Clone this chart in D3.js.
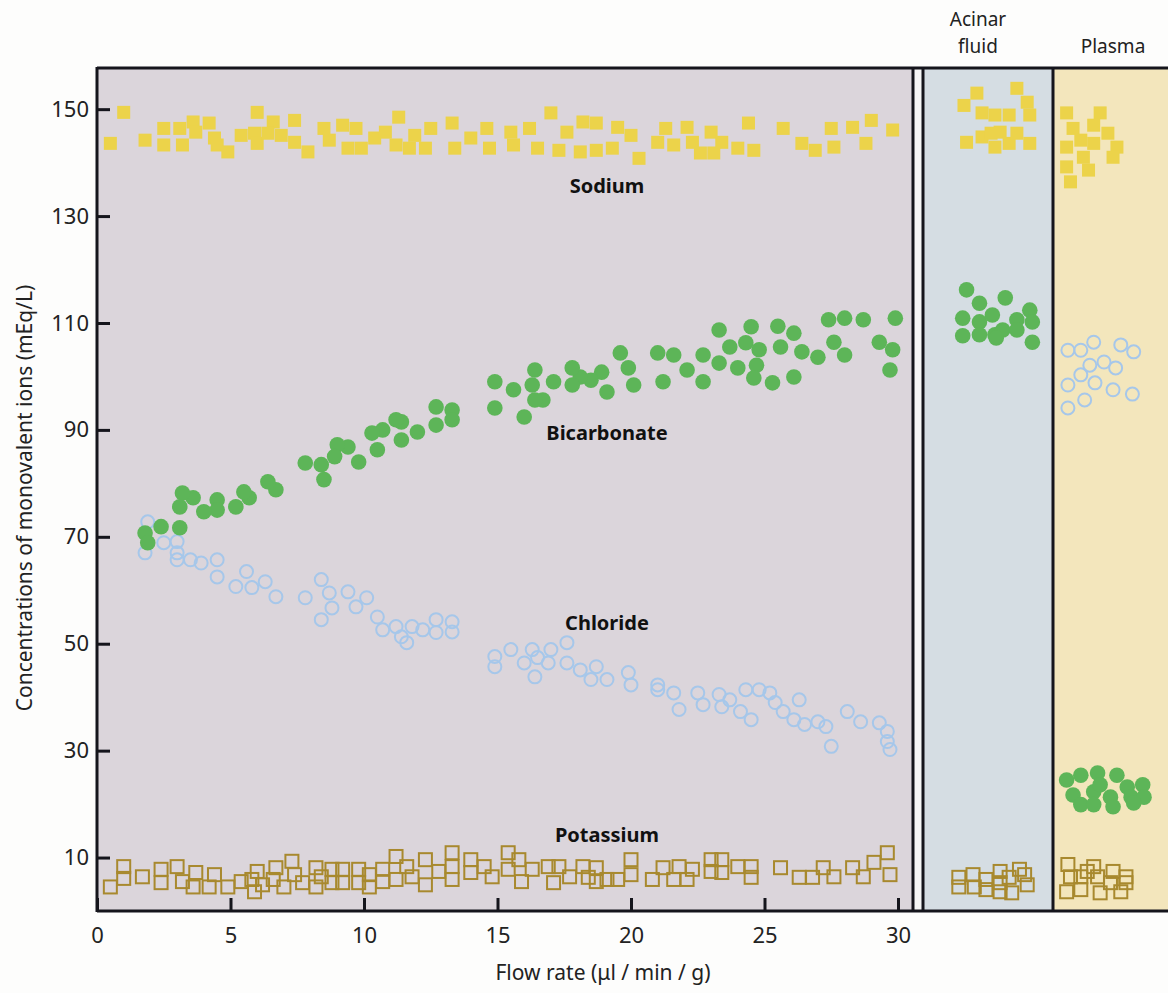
<!DOCTYPE html>
<html>
<head>
<meta charset="utf-8">
<script src="https://cdn.jsdelivr.net/npm/d3@7"></script>
<style>
  body { margin: 0; background: #fdfdfc; }
  svg { display: block; }
  .tick text { font-family: "Noto Sans", sans-serif; font-size: 22px; fill: #222; }
  .lbl { font-family: "Noto Sans", sans-serif; font-weight: bold; font-size: 20px; fill: #111; text-anchor: middle; }
  .title { font-family: "Noto Sans", sans-serif; font-size: 21px; fill: #222; text-anchor: middle; }
  .head { font-family: "Noto Sans", sans-serif; font-size: 19px; fill: #222; text-anchor: middle; }
</style>
</head>
<body>
<svg id="chart" width="1168" height="993"></svg>
<script>
// ion concentrations (mEq/L) vs flow rate (ul/min/g)
const sodium = [[0.5,143.6],[1.0,149.4],[1.8,144.2],[2.5,146.4],[2.5,143.3],[3.1,146.4],[3.2,143.3],[3.6,147.6],[3.7,145.7],[4.2,147.4],[4.4,144.6],[4.5,143.3],[4.9,142.0],[5.4,145.1],[6.0,149.4],[5.9,145.5],[6.0,143.6],[6.6,147.6],[6.4,145.5],[6.9,145.1],[7.4,147.9],[7.4,143.8],[7.9,142.0],[8.5,146.4],[8.7,144.2],[9.2,147.0],[9.7,146.4],[9.4,142.7],[9.9,142.7],[10.4,144.6],[10.8,145.7],[11.3,148.5],[11.2,143.3],[11.9,145.1],[11.7,142.7],[12.5,146.4],[12.3,142.7],[13.3,147.4],[13.4,142.7],[14.0,144.6],[14.6,146.4],[14.7,142.7],[17.0,149.3],[15.5,145.7],[15.6,143.3],[16.2,146.4],[16.5,142.7],[17.6,145.7],[17.3,142.3],[18.2,147.6],[18.7,147.4],[18.1,142.0],[18.7,142.3],[19.5,146.6],[19.3,142.7],[20.0,145.1],[20.3,140.8],[21.0,143.8],[21.3,146.4],[21.6,143.3],[22.1,146.6],[22.3,143.8],[23.0,145.7],[22.6,141.8],[23.1,141.8],[23.4,143.8],[24.0,142.7],[24.4,147.4],[24.6,142.3],[25.7,146.4],[26.4,143.6],[26.9,142.3],[27.5,146.4],[27.6,142.9],[28.3,146.6],[29.0,147.9],[28.8,143.6],[29.8,146.1]];

const bicarbonate = [[23.3,108.7],[24.5,109.3],[25.5,109.4],[26.1,108.1],[27.4,110.6],[28.0,110.9],[28.7,110.6],[29.9,110.9],[27.6,106.4],[29.3,106.4],[29.8,105.0],[29.7,101.2],[28.0,104.0],[27.0,103.6],[26.4,104.6],[25.6,105.5],[24.8,105.0],[24.3,106.3],[23.7,105.5],[23.3,102.5],[24.0,101.6],[24.7,102.1],[24.6,99.7],[25.3,98.8],[26.1,99.9],[22.7,104.0],[22.7,99.0],[21.6,104.0],[22.1,101.2],[21.2,99.0],[21.0,104.4],[19.6,104.4],[19.9,101.6],[20.1,98.4],[19.1,97.1],[18.9,100.8],[18.5,99.3],[18.1,99.9],[17.8,101.6],[17.8,98.4],[17.1,99.0],[16.4,101.2],[16.3,98.4],[16.7,95.6],[16.4,95.6],[16.0,92.4],[15.6,97.5],[14.9,99.0],[14.9,94.1],[13.3,93.7],[13.3,91.9],[12.7,94.3],[12.7,90.9],[12.0,89.6],[11.4,91.5],[11.2,91.9],[11.4,88.1],[10.7,90.0],[10.3,89.4],[10.5,86.3],[9.8,84.0],[9.4,86.8],[9.0,87.2],[8.9,85.0],[8.4,83.5],[8.5,80.7],[7.8,83.8],[6.7,78.8],[6.4,80.3],[5.7,77.3],[5.5,78.4],[5.2,75.6],[4.5,76.9],[4.5,75.0],[4.0,74.7],[3.6,77.3],[3.2,78.2],[3.1,75.6],[3.1,71.7],[2.4,71.9],[1.8,70.7],[1.9,68.9]];

const chloride = [[1.8,67.0],[1.9,72.8],[2.5,68.9],[3.0,69.1],[3.0,67.0],[3.0,65.7],[3.5,65.7],[3.9,65.1],[4.5,65.7],[4.5,62.5],[5.2,60.7],[5.6,63.5],[5.8,60.5],[6.3,61.6],[6.7,58.8],[7.8,58.6],[8.4,62.0],[8.7,59.5],[8.8,56.7],[8.4,54.5],[9.4,59.7],[9.7,56.9],[10.1,58.6],[10.5,55.0],[10.7,52.6],[11.2,53.2],[11.4,51.3],[11.6,50.2],[11.8,53.2],[12.2,52.6],[12.7,54.5],[12.7,52.1],[13.3,54.1],[13.3,52.2],[14.9,47.6],[14.9,45.7],[15.5,48.9],[16.0,46.4],[16.3,48.9],[16.4,43.8],[16.5,47.4],[17.0,48.9],[16.9,46.4],[17.6,50.2],[17.6,46.4],[18.1,45.1],[18.7,45.7],[18.5,43.3],[19.1,43.3],[19.9,44.6],[20.0,42.3],[21.0,42.3],[21.0,41.4],[21.6,40.8],[21.8,37.7],[22.5,40.8],[22.7,38.6],[23.3,40.5],[23.4,38.2],[23.7,39.5],[24.1,37.3],[24.3,41.4],[24.5,35.8],[24.8,41.4],[25.2,40.8],[25.4,39.0],[25.7,37.3],[26.3,39.5],[26.1,35.8],[26.5,34.9],[27.0,35.4],[27.3,34.5],[27.5,30.8],[28.1,37.3],[28.6,35.4],[29.3,35.2],[29.6,33.6],[29.6,31.7],[29.7,30.2]];

const potassium = [[0.5,4.5],[1.0,8.3],[1.0,6.1],[1.7,6.4],[2.4,7.8],[2.4,5.3],[3.0,8.3],[3.2,5.5],[3.7,7.2],[3.6,4.5],[4.2,4.5],[4.4,6.8],[4.9,4.5],[5.4,5.5],[5.8,5.9],[6.0,7.4],[5.9,3.6],[6.2,4.9],[6.7,8.1],[6.6,5.9],[7.0,4.5],[7.3,9.3],[7.4,6.8],[7.7,5.3],[8.2,8.1],[8.2,4.5],[8.4,6.4],[8.8,7.8],[8.8,5.3],[9.2,7.8],[9.2,5.3],[9.8,7.8],[9.8,5.3],[10.2,6.8],[10.2,4.5],[10.7,7.8],[10.7,5.5],[11.2,10.2],[11.2,5.9],[11.6,8.3],[11.8,6.4],[12.3,9.6],[12.3,4.9],[12.8,7.4],[13.3,10.9],[13.3,8.3],[13.3,5.9],[14.0,9.6],[14.0,7.2],[14.5,8.3],[14.8,6.4],[15.4,10.9],[15.4,7.8],[15.8,9.6],[15.9,5.5],[16.3,7.8],[16.9,8.3],[17.1,5.3],[17.3,8.3],[17.7,6.4],[18.2,8.3],[18.4,6.3],[18.7,8.1],[18.7,5.5],[19.1,5.9],[19.5,5.9],[20.0,9.6],[20.0,6.8],[20.8,5.9],[21.2,8.1],[21.6,5.9],[21.8,8.3],[22.1,5.9],[22.3,7.8],[23.0,9.6],[23.0,7.4],[23.4,9.6],[23.4,7.2],[24.0,8.3],[24.5,8.3],[24.5,6.3],[25.6,8.1],[26.3,6.3],[26.8,6.3],[27.2,8.1],[27.6,6.4],[28.3,8.1],[28.7,6.4],[29.1,9.1],[29.6,10.9],[29.7,6.8]];

// side panels: [position across panel 0..1, concentration]
const acinarSodium = [[0.41,153.0],[0.72,153.9],[0.31,150.7],[0.45,149.3],[0.55,148.9],[0.66,148.9],[0.80,151.3],[0.82,148.9],[0.33,143.8],[0.45,144.8],[0.52,145.5],[0.59,145.7],[0.66,143.6],[0.72,145.5],[0.82,143.6],[0.55,142.9]];
const acinarBicarbonate = [[0.33,116.2],[0.43,113.7],[0.63,114.7],[0.30,110.9],[0.43,110.2],[0.53,111.5],[0.82,112.4],[0.72,110.6],[0.84,110.2],[0.30,107.6],[0.43,107.8],[0.55,107.8],[0.61,108.7],[0.72,108.7],[0.84,106.4],[0.56,107.2]];
const acinarPotassium = [[0.27,6.3],[0.27,4.5],[0.38,6.8],[0.39,4.5],[0.48,5.9],[0.48,4.0],[0.59,7.4],[0.59,5.3],[0.59,3.6],[0.66,6.3],[0.68,3.4],[0.74,7.8],[0.78,6.8],[0.80,4.9]];

const plasmaSodium = [[0.09,149.3],[0.14,146.4],[0.09,142.9],[0.09,139.2],[0.12,136.4],[0.22,141.0],[0.30,143.6],[0.35,149.3],[0.41,145.5],[0.48,142.9],[0.45,141.0],[0.20,144.2],[0.26,138.6],[0.30,147.0]];
const plasmaChloride = [[0.10,104.9],[0.20,104.9],[0.30,106.4],[0.51,105.9],[0.61,104.6],[0.38,102.7],[0.27,102.1],[0.47,101.6],[0.20,100.3],[0.10,98.4],[0.31,98.8],[0.45,97.5],[0.60,96.7],[0.23,95.6],[0.10,94.1]];
const plasmaBicarbonate = [[0.09,24.5],[0.20,25.4],[0.33,25.8],[0.48,25.4],[0.14,21.7],[0.30,22.3],[0.43,21.3],[0.56,23.2],[0.68,23.6],[0.20,19.9],[0.30,19.9],[0.45,19.5],[0.59,21.3],[0.69,21.3],[0.61,20.2],[0.35,23.6]];
const plasmaPotassium = [[0.10,8.7],[0.12,6.4],[0.09,3.6],[0.20,6.4],[0.20,4.0],[0.30,8.3],[0.33,6.4],[0.35,3.4],[0.45,7.4],[0.43,5.3],[0.51,3.6],[0.55,6.4],[0.55,5.3],[0.25,7.4]];

const yTicks = [10, 30, 50, 70, 90, 110, 130, 150];
const xTicks = [0, 5, 10, 15, 20, 25, 30];
const seriesLabels = [["Sodium", 134.3], ["Bicarbonate", 88.2], ["Chloride", 52.6], ["Potassium", 12.9]];

const COL_NA = "#ecd34a", COL_HCO3 = "#5db558", COL_CL = "#a6c7ea", COL_K = "#a8892e";

var svg = d3.select("#chart");

var x = d3.scaleLinear().domain([0, 30]).range([97, 898]);
var y = d3.scaleLinear().domain([0, 157.7]).range([911, 68]);
var xa = d3.scaleLinear().domain([0, 1]).range([924, 1053]);   // acinar fluid panel
var xp = d3.scaleLinear().domain([0, 1]).range([1055, 1184]);  // plasma panel

// panel backgrounds
svg.append("rect").attr("x", 97).attr("y", 68).attr("width", 816).attr("height", 843).attr("fill", "#dbd5db");
svg.append("rect").attr("x", 913).attr("y", 68).attr("width", 10).attr("height", 843).attr("fill", "#f6f6f6");
svg.append("rect").attr("x", 923).attr("y", 68).attr("width", 130).attr("height", 843).attr("fill", "#d5dde3");
svg.append("rect").attr("x", 1053).attr("y", 68).attr("width", 120).attr("height", 843).attr("fill", "#f3e6bc");

// markers
function squares(data, sx, filled, col) {
  svg.append("g").selectAll("rect").data(data).enter().append("rect")
    .attr("x", d => sx(d[0]) - 6.5).attr("y", d => y(d[1]) - 6.5)
    .attr("width", 13).attr("height", 13)
    .attr("fill", filled ? col : "none")
    .attr("stroke", filled ? "none" : col)
    .attr("stroke-width", 2);
}
function dots(data, sx, filled, col) {
  svg.append("g").selectAll("circle").data(data).enter().append("circle")
    .attr("cx", d => sx(d[0])).attr("cy", d => y(d[1]))
    .attr("r", filled ? 7.8 : 6.5)
    .attr("fill", filled ? col : "none")
    .attr("stroke", filled ? "none" : col)
    .attr("stroke-width", 2);
}

squares(sodium, x, true, COL_NA);
dots(chloride, x, false, COL_CL);
dots(bicarbonate, x, true, COL_HCO3);
squares(potassium, x, false, COL_K);

squares(acinarSodium, xa, true, COL_NA);
dots(acinarBicarbonate, xa, true, COL_HCO3);
squares(acinarPotassium, xa, false, COL_K);

squares(plasmaSodium, xp, true, COL_NA);
dots(plasmaChloride, xp, false, COL_CL);
dots(plasmaBicarbonate, xp, true, COL_HCO3);
squares(plasmaPotassium, xp, false, COL_K);

// frame lines
var frame = svg.append("g").attr("stroke", "#15151c").attr("stroke-width", 3);
frame.append("line").attr("x1", 97).attr("x2", 1168).attr("y1", 68).attr("y2", 68);
frame.append("line").attr("x1", 97).attr("x2", 1168).attr("y1", 911).attr("y2", 911);
frame.append("line").attr("x1", 97).attr("x2", 97).attr("y1", 67).attr("y2", 912);
[913, 923, 1053].forEach(function(px) {
  frame.append("line").attr("x1", px).attr("x2", px).attr("y1", 67).attr("y2", 912);
});

// axes with inward ticks
var yAxis = d3.axisLeft(y).tickValues(yTicks).tickSizeInner(-13).tickSizeOuter(0).tickPadding(8);
var gy = svg.append("g").attr("transform", "translate(97,0)").call(yAxis);
var xAxis = d3.axisBottom(x).tickValues(xTicks).tickSizeInner(-13).tickSizeOuter(0).tickPadding(16);
var gx = svg.append("g").attr("transform", "translate(0,911)").call(xAxis);
[gy, gx].forEach(function(g) {
  g.select(".domain").remove();
  g.selectAll(".tick line").attr("stroke", "#15151c").attr("stroke-width", 3);
});

// series labels
svg.append("g").selectAll("text").data(seriesLabels).enter().append("text")
  .attr("class", "lbl")
  .attr("x", x(19.1)).attr("y", d => y(d[1]))
  .text(d => d[0]);

// axis titles
svg.append("text").attr("class", "title")
  .attr("transform", "translate(32,498) rotate(-90)")
  .text("Concentrations of monovalent ions (mEq/L)");
svg.append("text").attr("class", "title")
  .attr("x", 603).attr("y", 980)
  .text("Flow rate (\u03bcl / min / g)");

// panel headers
svg.append("text").attr("class", "head").attr("x", 978).attr("y", 26).text("Acinar");
svg.append("text").attr("class", "head").attr("x", 978).attr("y", 53).text("fluid");
svg.append("text").attr("class", "head").attr("x", 1113).attr("y", 53).text("Plasma");
</script>
</body>
</html>
